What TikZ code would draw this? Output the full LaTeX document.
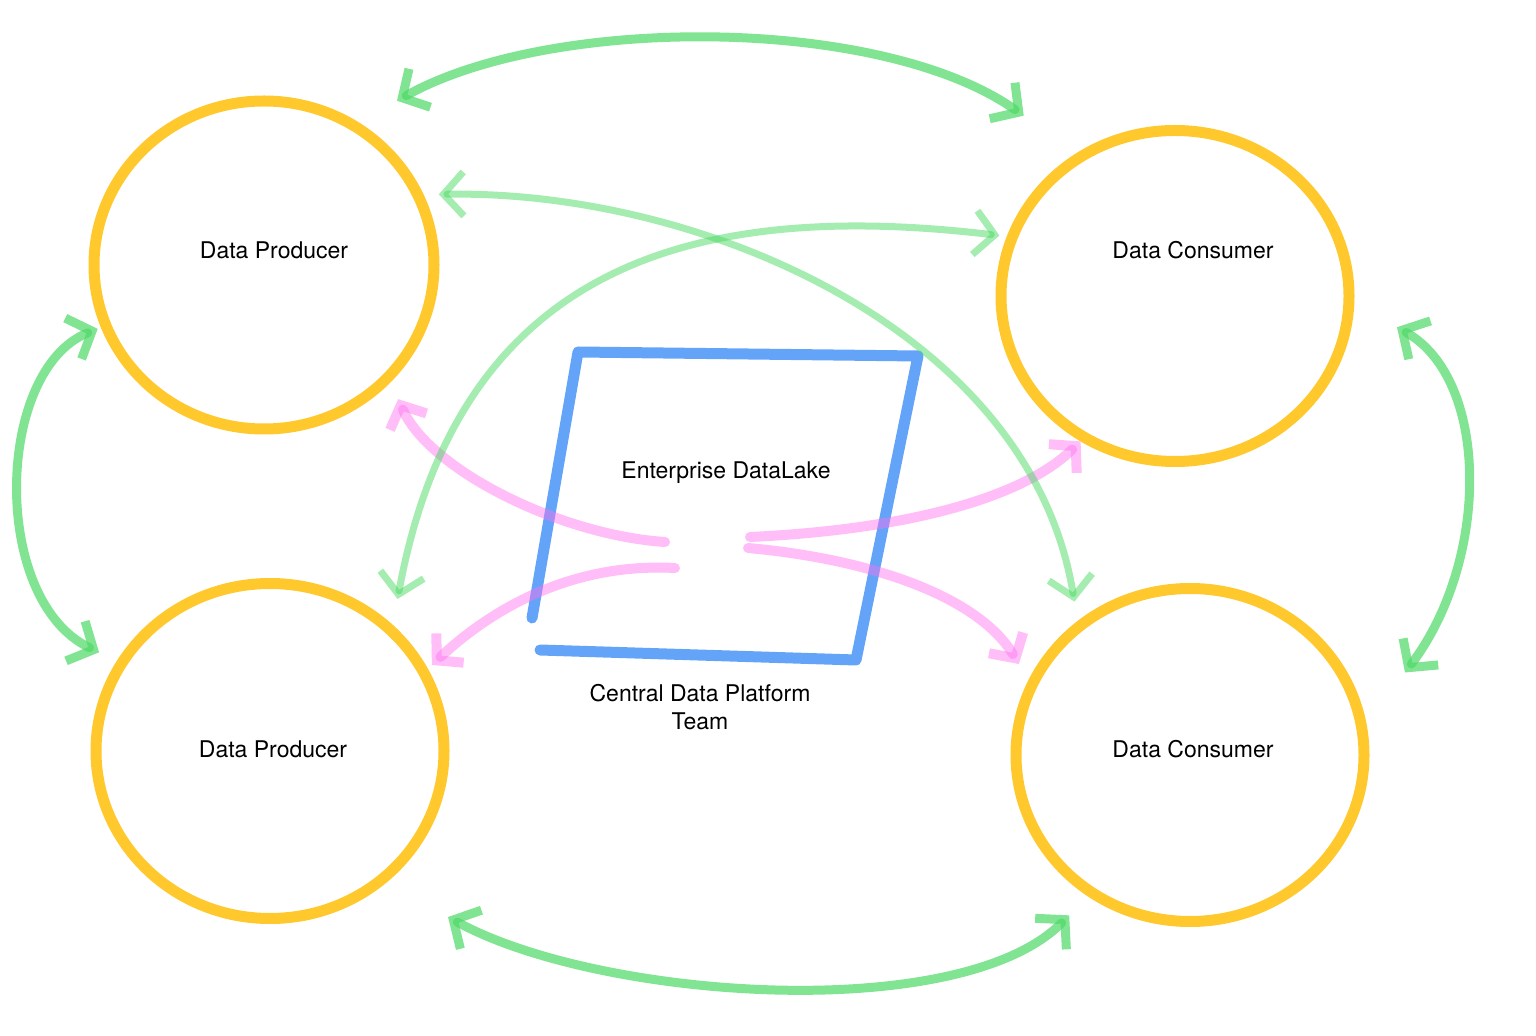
\documentclass[tikz,border=0pt]{standalone}
\usepackage{fontspec}
\setmainfont{TeX Gyre Heros}
\definecolor{mYellow}{HTML}{FFC82C}
\definecolor{mGreen}{HTML}{4CD964}
\definecolor{mBlue}{HTML}{2F86F6}
\definecolor{mPink}{HTML}{FF6EF0}
\usetikzlibrary{arrows.meta, calc, shapes.geometric}

\begin{document}
\begin{tikzpicture}[x=0.5pt, y=-0.5pt,
  teambox/.style={draw=mYellow, line width=5.5pt, ellipse, inner sep=0pt},
  lbl/.style={font=\fontsize{11.5}{14}\selectfont, align=center},
  lakeline/.style={draw=mBlue, line width=5.5pt, opacity=0.75, line cap=round, line join=round},
  flow/.style={draw=mGreen, line width=4.5pt, opacity=0.7, line cap=round,
    >={Straight Barb[length=10pt,width=22pt]}, <->},
  faint/.style={line width=3.5pt, opacity=0.5},
  feed/.style={draw=mPink, line width=5pt, opacity=0.45, line cap=round,
    >={Straight Barb[length=9pt,width=20pt]}, ->}]
\useasboundingbox (0,0) rectangle (1536,1036);

\node[teambox, minimum width=170pt, minimum height=164pt] (prodA) at (264,265) {};
\node[teambox, minimum width=174pt, minimum height=165.5pt] (consA) at (1175,296) {};
\node[teambox, minimum width=174pt, minimum height=167.5pt] (prodB) at (270,751) {};
\node[teambox, minimum width=174pt, minimum height=166.5pt] (consB) at (1190,755) {};

\draw[lakeline] (532,618) -- (578,352) -- (918,356) -- (856,660) -- (540,650);

\coordinate (srcA) at (665,542);
\coordinate (srcB) at (675,568);
\coordinate (srcC) at (750,537);
\coordinate (srcD) at (748,548);

\draw[feed] (srcA) .. controls (560,535) and (430,470) .. ($(prodA.center)!1.10!(prodA.315)$);
\draw[feed] (srcB) .. controls (560,562) and (480,620) .. ($(prodB.center)!1.03!(prodB.28)$);
\draw[feed] (srcC) .. controls (900,530) and (1020,500) .. ($(consA.center)!1.0!(consA.237)$);
\draw[feed] (srcD) .. controls (880,560) and (980,600) .. ($(consB.center)!1.09!(consB.152)$);

\draw[flow] ($(prodA.center)!1.23!(prodA.51)$) .. controls (550,15) and (880,15) .. ($(consA.center)!1.35!(consA.130)$);
\draw[flow, faint] ($(prodA.center)!1.08!(prodA.22)$) .. controls (700,190) and (1030,330) .. ($(consB.center)!1.10!(consB.127)$);
\draw[flow, faint] ($(consA.center)!1.04!(consA.161)$) .. controls (700,200) and (460,260) .. ($(prodB.center)!1.13!(prodB.50)$);
\draw[flow] ($(prodA.center)!1.02!(prodA.201)$) .. controls (-5,370) and (-10,600) .. ($(prodB.center)!1.11!(prodB.150)$);
\draw[flow] ($(consA.center)!1.25!(consA.352)$) .. controls (1490,380) and (1490,560) .. ($(consB.center)!1.29!(consB.21)$);
\draw[flow] ($(prodB.center)!1.38!(prodB.317)$) .. controls (600,1000) and (960,1025) .. ($(consB.center)!1.15!(consB.233)$);

\node[lbl] (prodAtext) at (274,250) {Data Producer};
\node[lbl] (consAtext) at (1193,250) {Data Consumer};
\node[lbl] (prodBtext) at (273,749) {Data Producer};
\node[lbl] (consBtext) at (1193,749) {Data Consumer};
\node[lbl] (lake) at (726,473) {Enterprise DataLake};
\node[lbl] (team) at (700,707) {Central Data Platform\\Team};
\end{tikzpicture}
\end{document}
